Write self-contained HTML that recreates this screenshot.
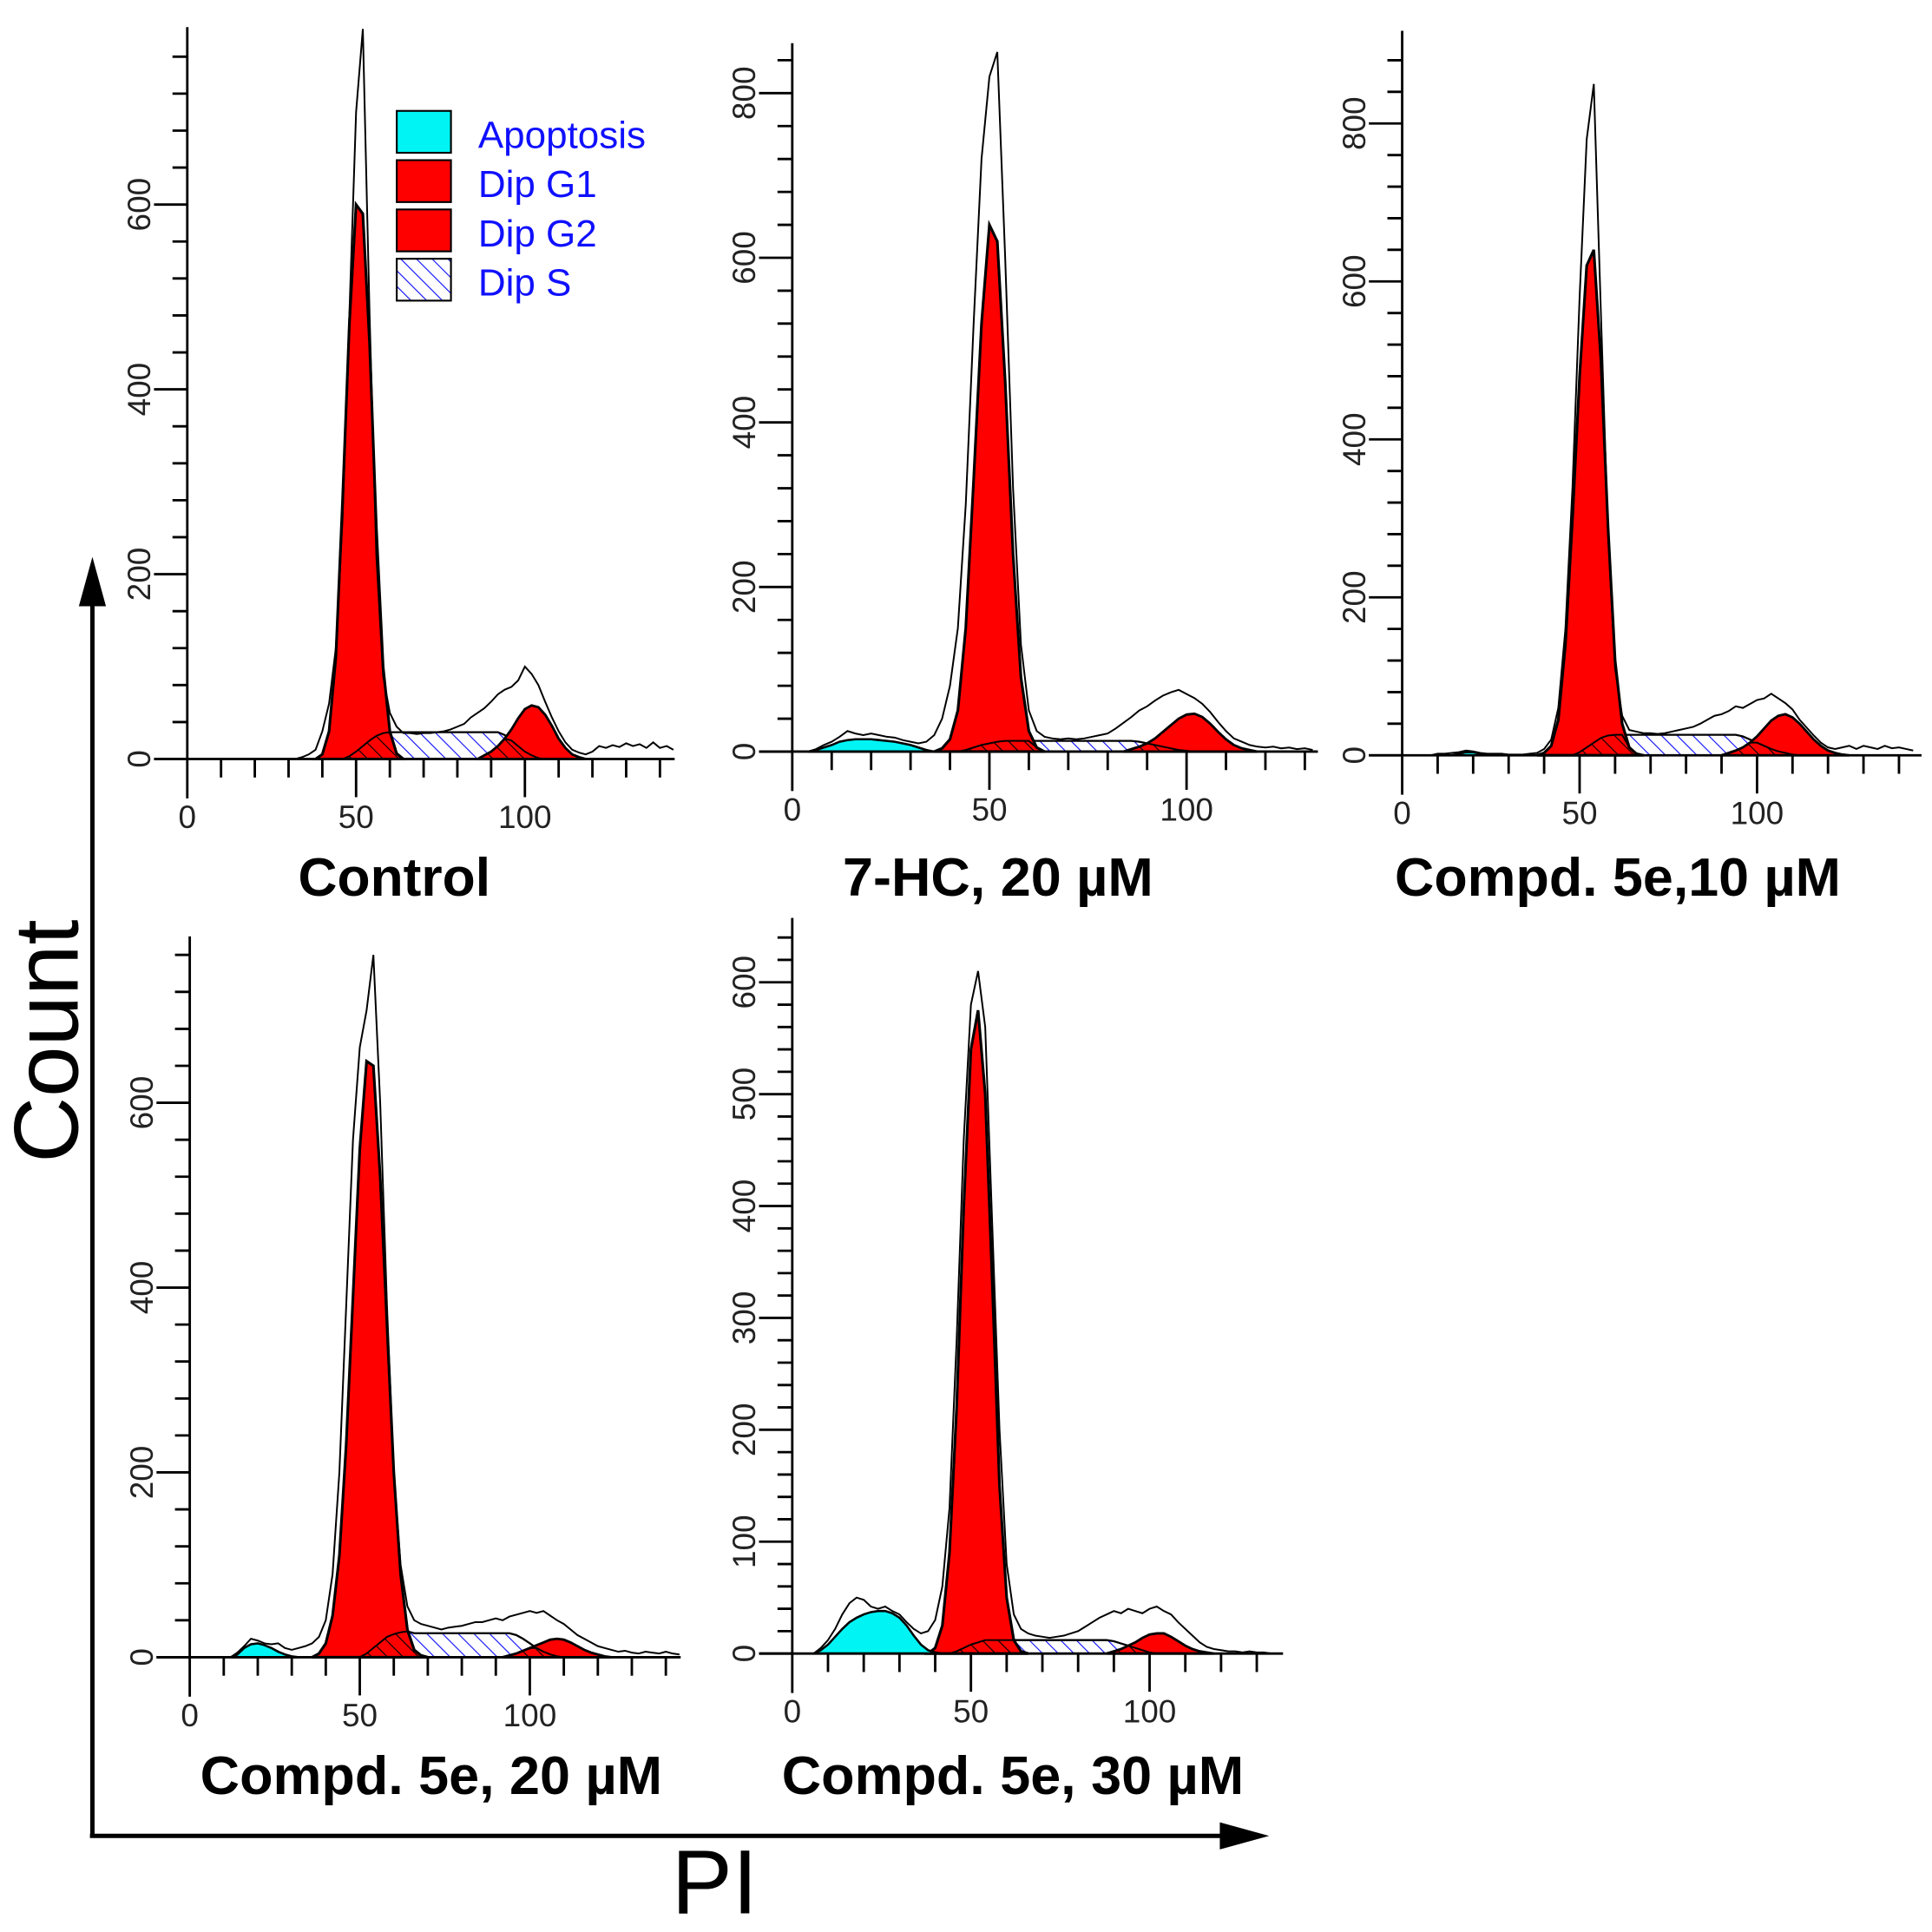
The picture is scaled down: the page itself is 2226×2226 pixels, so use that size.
<!DOCTYPE html>
<html><head><meta charset="utf-8"><style>
html,body{margin:0;padding:0;background:#fff;}
svg{display:block;}
text{font-family:"Liberation Sans",sans-serif;}
</style></head><body>
<svg id="fig" xmlns="http://www.w3.org/2000/svg" width="2226" height="2226" viewBox="0 0 1568 1568">
<defs>
<pattern id="hatchBlue" patternUnits="userSpaceOnUse" width="9" height="9" patternTransform="rotate(-45)">
<rect width="9" height="9" fill="#fff"/><line x1="0" y1="0" x2="0" y2="9" stroke="#1010ff" stroke-width="1.6"/>
</pattern>
<pattern id="hatchBlack" patternUnits="userSpaceOnUse" width="9" height="9" patternTransform="rotate(-45)">
<line x1="0" y1="0" x2="0" y2="9" stroke="#000" stroke-width="1.6"/>
</pattern>
</defs>
<g id="panels"></g>
<g>
<rect x="322" y="90" width="44" height="34" fill="#00f4f4" stroke="#000" stroke-width="1.5"/>
<text x="388" y="120" font-size="31" fill="#1010ff">Apoptosis</text>
<rect x="322" y="130" width="44" height="34" fill="#ff0000" stroke="#000" stroke-width="1.5"/>
<text x="388" y="160" font-size="31" fill="#1010ff">Dip G1</text>
<rect x="322" y="170" width="44" height="34" fill="#ff0000" stroke="#000" stroke-width="1.5"/>
<text x="388" y="200" font-size="31" fill="#1010ff">Dip G2</text>
<rect x="322" y="210" width="44" height="34" fill="url(#hatchBlue)" stroke="#000" stroke-width="1.5"/>
<text x="388" y="240" font-size="31" fill="#1010ff">Dip S</text>
</g>
<g>
<line x1="75" y1="1491" x2="75" y2="488" stroke="#000" stroke-width="3.5"/>
<polygon points="64,492 75,452 86,492" fill="#000"/>
<line x1="73" y1="1490" x2="995" y2="1490" stroke="#000" stroke-width="3.5"/>
<polygon points="990,1479 1030,1490 990,1501" fill="#000"/>
<text transform="translate(63,845) rotate(-90)" text-anchor="middle" font-size="74">Count</text>
<text x="580" y="1553" text-anchor="middle" font-size="74">PI</text>
</g>
</svg>
<script>
function Z(n){return new Array(n).fill(0);}
// bins: PI values 0..144 step 2
const binCount = 73;
// Control
const ctrlRaw = [...Z(17),2,5,10,30,60,120,260,480,700,790,480,220,90,50,35,28,28,27,28,28,29,30,32,35,38,45,50,55,62,70,75,78,85,100,92,80,62,45,30,18,10,7,5,8,14,12,15,13,17,14,16,12,18,12,14,10];
const ctrlG1 = [...Z(20),5,30,110,280,470,600,590,450,250,100,30,6,...Z(41)];
const ctrlG2 = [...Z(44),4,8,14,22,32,44,54,58,56,48,36,22,12,5,2,...Z(14)];
const ctrlS = [...Z(24),3,8,14,20,25,28,29,29,29,29,29,29,29,29,29,29,29,29,29,29,29,29,29,26,20,14,8,4,1,...Z(20)];
const ctrlApo = Z(73);
// 7-HC 20 uM
const hcRaw = [0,0,0,3,8,12,18,25,22,20,22,20,18,17,14,12,10,12,20,40,80,150,300,520,720,820,850,600,320,130,50,25,18,16,15,16,15,16,18,20,22,28,35,42,50,55,62,68,72,75,70,65,58,48,36,25,16,12,8,6,5,6,4,5,3,4,2,0,0,0,0,0,0];
const hcG1 = [...Z(19),4,15,50,150,330,520,640,620,450,240,90,25,5,...Z(41)];
const hcG2 = [...Z(43),3,6,10,16,24,32,40,45,46,42,34,24,15,8,4,2,...Z(14)];
const hcS = [...Z(22),2,5,8,10,12,13,13,13,13,13,13,13,13,13,13,13,13,13,13,13,13,13,12,10,8,6,4,2,1,...Z(22)];
const hcApo = [0,0,0,2,5,8,12,14,15,15,15,14,13,12,10,8,5,2,0,...Z(54)];
// Compd 5e 10 uM
const c10Raw = [...Z(5),2,2,3,4,6,5,3,2,2,2,1,1,1,2,3,8,20,60,160,340,580,780,850,560,280,110,50,32,30,28,28,27,28,30,32,34,36,40,45,50,52,56,62,60,65,70,72,78,72,66,58,45,35,25,16,10,8,10,12,8,12,10,8,12,9,10,8,6];
const c10G1 = [...Z(20),3,12,45,140,300,480,620,640,500,290,120,40,10,2,...Z(39)];
const c10G2 = [...Z(46),3,6,10,16,24,34,44,50,52,48,40,30,20,12,6,3,1,...Z(10)];
const c10S = [...Z(25),4,10,16,22,25,26,26,26,26,26,26,26,26,26,26,26,26,26,26,26,26,26,26,24,20,16,12,8,5,3,1,...Z(17)];
const c10Apo = [...Z(8),2,4,4,2,...Z(61)];
// Compd 5e 20 uM
const c20Raw = [...Z(7),5,12,20,18,15,14,15,10,8,10,12,15,22,40,90,200,380,560,660,700,760,600,380,200,100,55,40,36,34,32,30,32,33,34,36,38,38,40,42,40,44,46,48,50,48,50,45,40,36,30,24,20,16,12,10,8,6,7,5,4,6,5,4,6,4,3];
const c20G1 = [...Z(19),4,15,45,110,230,390,550,645,640,520,360,200,90,30,8,2,...Z(38)];
const c20G2 = [...Z(47),2,4,7,10,13,16,19,20,19,16,12,8,5,3,1,...Z(11)];
const c20S = [...Z(26),4,10,16,22,25,27,28,26,26,26,26,26,26,26,26,26,26,26,26,26,26,26,24,20,15,10,6,3,1,...Z(18)];
const c20Apo = [...Z(7),3,10,14,15,13,10,6,3,1,...Z(57)];
// Compd 5e 30 uM
const c30Raw = [0,0,0,0,5,12,22,35,45,50,48,42,40,42,38,35,28,22,18,20,30,60,130,280,460,580,610,560,380,200,80,35,22,18,16,15,14,15,16,18,20,24,28,32,35,38,36,40,38,36,40,42,38,35,28,22,16,10,6,4,3,2,2,1,2,1,1,0,0,0,0,0,0];
const c30G1 = [...Z(20),5,25,90,220,400,540,575,500,330,150,50,12,2,...Z(40)];
const c30G2 = [...Z(45),2,4,7,10,14,17,18,18,15,11,7,4,2,1,...Z(14)];
const c30S = [...Z(23),2,5,8,10,12,12,12,12,12,12,12,12,12,12,12,12,12,12,12,12,12,12,11,9,7,5,3,1,...Z(22)];
const c30Apo = [0,0,0,0,3,8,15,22,28,32,35,37,38,38,36,32,25,16,8,3,1,...Z(52)];
// tick labels
const yTicks400 = [0,200,400,600];
const yTicks800 = [0,200,400,600,800];
const yTicks600 = [0,100,200,300,400,500,600];
const xTickLabels = [0,50,100];

const layouts = [
 {name:'control',title:'Control',x0:152,y0:616,kx:2.74,ky:0.75,top:22,xmax:144,yMinor:40,yLab:yTicks400,yMaxTick:780,tx:320,ty:727,tw:156,
  raw:ctrlRaw,g1:ctrlG1,g2:ctrlG2,s:ctrlS,apo:ctrlApo},
 {name:'7-hc-20um',title:'7-HC, 20 \u00b5M',x0:643,y0:610,kx:3.2,ky:0.668,top:35,xmax:133,yMinor:40,yLab:yTicks800,yMaxTick:840,tx:810,ty:727,tw:252,
  raw:hcRaw,g1:hcG1,g2:hcG2,s:hcS,apo:hcApo},
 {name:'compd-5e-10um',title:'Compd. 5e,10 \u00b5M',x0:1138,y0:613,kx:2.88,ky:0.641,top:25,xmax:146,yMinor:40,yLab:yTicks800,yMaxTick:880,tx:1313,ty:727,tw:362,
  raw:c10Raw,g1:c10G1,g2:c10G2,s:c10S,apo:c10Apo},
 {name:'compd-5e-20um',title:'Compd. 5e, 20 \u00b5M',x0:154,y0:1345,kx:2.76,ky:0.75,top:760,xmax:144,yMinor:40,yLab:yTicks400,yMaxTick:760,tx:350,ty:1456,tw:375,
  raw:c20Raw,g1:c20G1,g2:c20G2,s:c20S,apo:c20Apo},
 {name:'compd-5e-30um',title:'Compd. 5e, 30 \u00b5M',x0:643,y0:1342,kx:2.9,ky:0.908,top:745,xmax:137,yMinor:20,yLab:yTicks600,yMaxTick:640,tx:822,ty:1456,tw:375,
  raw:c30Raw,g1:c30G1,g2:c30G2,s:c30S,apo:c30Apo}
];
const NS='http://www.w3.org/2000/svg';
const root=document.getElementById('panels');
function mk(tag,attrs,parent){const e=document.createElementNS(NS,tag);for(const k in attrs)e.setAttribute(k,attrs[k]);parent.appendChild(e);return e;}

layouts.forEach(L=>{
  const X=v=>L.x0+v*L.kx, Y=c=>L.y0-c*L.ky;
  const g=mk('g',{},root);
  
  
  const binX=i=>i*2;
  function areaPts(vals){
    let first=-1,last=-1;
    for(let i=0;i<vals.length;i++){if(vals[i]>0){if(first<0)first=i;last=i;}}
    if(first<0)return null;
    const a=Math.max(0,first-1), b=Math.min(vals.length-1,last+1);
    const pts=[];
    pts.push(X(binX(a))+','+Y(0));
    for(let i=a;i<=b;i++){if(binX(i)>L.xmax)break;pts.push(X(binX(i))+','+Y(vals[i]));}
    pts.push(X(Math.min(binX(b),L.xmax))+','+Y(0));
    return pts.join(' ');
  }
  let p=areaPts(L.s);
  if(p){const e=mk('polygon',{points:p,fill:'url(#hatchBlue)',stroke:'#000','stroke-width':1.6},g);
    
    }
  p=areaPts(L.g1);
  if(p){const e=mk('polygon',{points:p,fill:'#ff0000',stroke:'#000','stroke-width':2.2},g);
    
    }
  p=areaPts(L.g2);
  if(p){const e=mk('polygon',{points:p,fill:'#ff0000',stroke:'#000','stroke-width':2},g);
    
    }
  const ov=L.s.map((v,i)=>Math.min(v,L.g1[i]+L.g2[i]));
  p=areaPts(ov);
  if(p){const e=mk('polygon',{points:p,fill:'url(#hatchBlack)',stroke:'#000','stroke-width':1.4},g);
    
    }
  p=areaPts(L.apo);
  if(p){const e=mk('polygon',{points:p,fill:'#00f4f4',stroke:'#000','stroke-width':1.8},g);
    
    }
  const rp=[];
  for(let i=0;i<L.raw.length;i++){if(binX(i)>L.xmax)break;if(L.raw[i]>0||(i>0&&L.raw[i-1]>0)||(i<L.raw.length-1&&L.raw[i+1]>0))rp.push(X(binX(i))+','+Y(L.raw[i]));}
  const rl=mk('polyline',{points:rp.join(' '),fill:'none',stroke:'#000','stroke-width':1.4,'stroke-linejoin':'miter'},g);
  
  
  const ya=mk('line',{x1:L.x0,y1:L.top,x2:L.x0,y2:L.y0+32,stroke:'#000','stroke-width':2},g);
  
  
  const xa=mk('line',{x1:L.x0-27,y1:L.y0,x2:X(L.xmax)+1,y2:L.y0,stroke:'#000','stroke-width':2},g);
  
  
  for(let v=0;v<=L.yMaxTick;v+=L.yMinor){
    const major=L.yLab.includes(v);
    const t=mk('line',{x1:L.x0-(major?27:12),y1:Y(v),x2:L.x0,y2:Y(v),stroke:'#000','stroke-width':2},g);
    
    
  }
  L.yLab.forEach(v=>{
    const t=mk('text',{transform:`translate(${L.x0-30},${Y(v)}) rotate(-90)`,'text-anchor':'middle','font-size':26,fill:'#222'},g);
    t.textContent=v;
    
    
  });
  for(let v=10;v<=L.xmax;v+=10){
    const major=xTickLabels.includes(v);
    const t=mk('line',{x1:X(v),y1:L.y0,x2:X(v),y2:L.y0+(major?31:15),stroke:'#000','stroke-width':2},g);
    
    
  }
  xTickLabels.forEach(v=>{
    const t=mk('text',{x:X(v),y:L.y0+56,'text-anchor':'middle','font-size':26,fill:'#222'},g);
    t.textContent=v;
    
    
  });
  const tt=mk('text',{x:L.tx,y:L.ty,'text-anchor':'middle','font-size':44,'font-weight':'bold',textLength:L.tw,lengthAdjust:'spacingAndGlyphs'},g);
  tt.textContent=L.title;
  
  
});
</script>
</body></html>
